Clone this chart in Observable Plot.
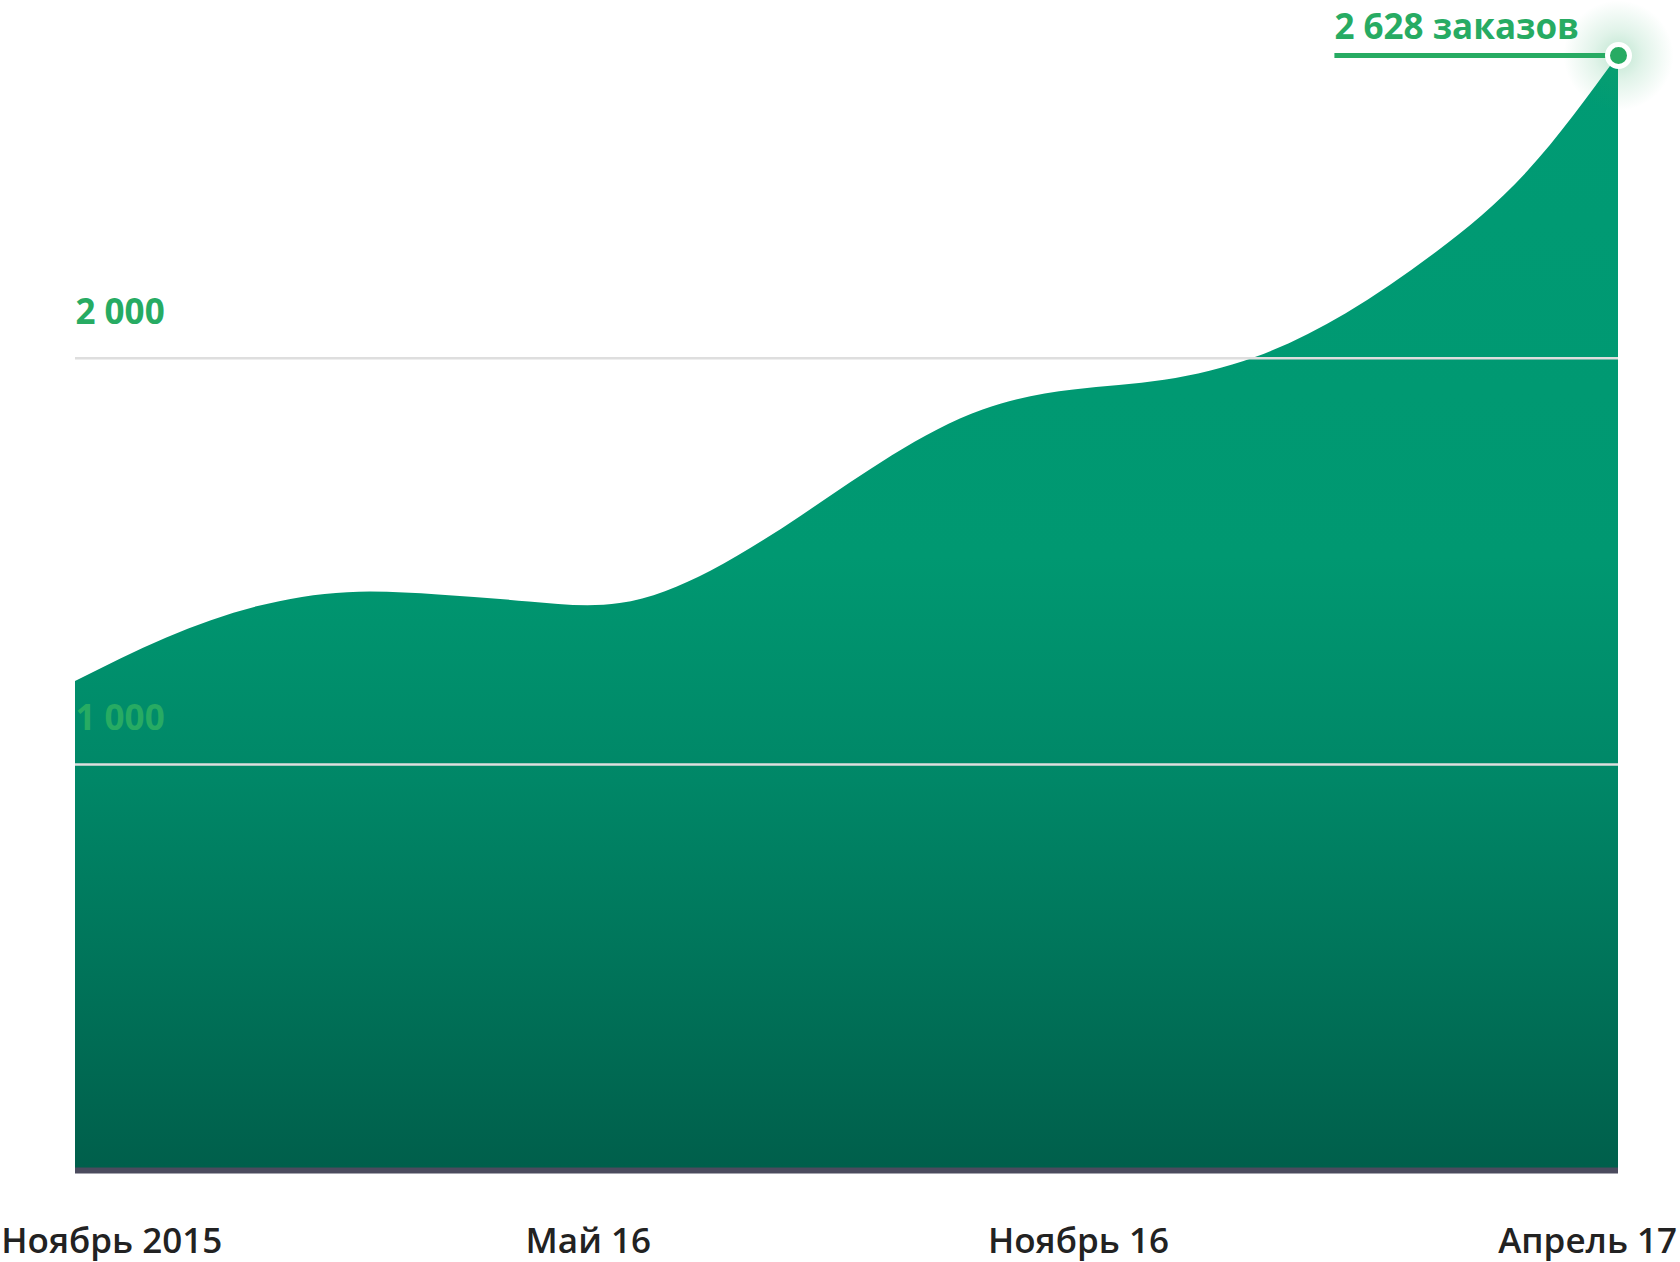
<!DOCTYPE html>
<html>
<head>
<meta charset="utf-8">
<script src="https://cdn.jsdelivr.net/npm/d3@7"></script>
<script src="https://cdn.jsdelivr.net/npm/@observablehq/plot@0.6"></script>
<style>
  html, body { margin: 0; padding: 0; background: #ffffff; }
  #chart { width: 1680px; height: 1262px; }
  svg { font-family: "Open Sans", sans-serif; overflow: visible; }
</style>
</head>
<body>
<div id="chart"></div>
<script>
// Months since November 2015 (0 = Nov 2015, 17 = Apr 2017)
const months = [0, 1, 2, 3, 4, 5, 6, 7, 8, 9, 10, 11, 12, 13, 14, 15, 16, 17];
// Orders per month
const orders = [1204, 1311, 1388, 1423, 1417, 1400, 1396, 1476, 1612, 1760, 1873, 1922, 1946, 2002, 2110, 2262, 2460, 2746];

// X tick labels and their positions (in months)
const xTickLabels = ["Ноябрь 2015", "Май 16", "Ноябрь 16", "Апрель 17"];
const xTickMonths = [0.4, 5.65, 11.05, 16.66];

// Y gridlines / labels
const yTicks = [1000, 2000];
const yTickLabels = ["1 000", "2 000"];

// Annotation of last value
const annoLabel = "2 628 заказов";
const annoStartMonth = 13.87;

const data = months.map((m, i) => ({m, v: orders[i]}));
const last = data[data.length - 1];

const green = "#27ab63";

const chart = Plot.plot({
  width: 1680,
  height: 1262,
  marginLeft: 75,
  marginRight: 62,
  marginTop: 33,
  marginBottom: 92,
  x: {domain: [0, 17], axis: null},
  y: {domain: [0, 2800], axis: null},
  style: {background: "transparent"},
  marks: [
    Plot.areaY(data, {x: "m", y: "v", curve: "natural", fill: "url(#areaGrad)"}),
    Plot.ruleY(yTicks, {stroke: "#dedede", strokeWidth: 2.5}),
    Plot.text(yTicks, {
      y: d => d, frameAnchor: "left", text: (d, i) => yTickLabels[i],
      textAnchor: "start", dy: -46, fill: green, fontSize: 35, fontWeight: 700
    }),
    Plot.ruleY([0], {stroke: "#4b4b5e", strokeWidth: 6}),
    Plot.axisX(xTickMonths, {
      tickSize: 0, tickPadding: 58, fontSize: 35, fontWeight: 600, label: null,
      fill: "#222222", tickFormat: (d) => xTickLabels[xTickMonths.indexOf(d)]
    }),
    Plot.link([last], {
      x1: () => annoStartMonth, x2: "m", y1: "v", y2: "v",
      stroke: green, strokeWidth: 5
    }),
    Plot.dot([last], {x: "m", y: "v", r: 55, fill: "url(#glowGrad)"}),
    Plot.dot([last], {x: "m", y: "v", r: 11, fill: green, stroke: "#ffffff", strokeWidth: 5}),
    Plot.text([last], {
      x: () => annoStartMonth, y: "v", text: () => annoLabel,
      textAnchor: "start", dy: -28, fill: green, fontSize: 35, fontWeight: 700
    })
  ]
});

const defs = d3.select(chart).insert("defs", ":first-child");
const lg = defs.append("linearGradient").attr("id", "areaGrad")
  .attr("x1", 0).attr("y1", 0).attr("x2", 0).attr("y2", 1);
[[0, "#009b74"], [0.45, "#009871"], [0.65, "#008767"], [1, "#005f4b"]].forEach(([o, c]) =>
  lg.append("stop").attr("offset", o).attr("stop-color", c));
const rg = defs.append("radialGradient").attr("id", "glowGrad");
[[0, "#27ab63", 0.3], [0.45, "#27ab63", 0.14], [1, "#27ab63", 0]].forEach(([o, c, a]) =>
  rg.append("stop").attr("offset", o).attr("stop-color", c).attr("stop-opacity", a));

document.getElementById("chart").appendChild(chart);
</script>
</body>
</html>
